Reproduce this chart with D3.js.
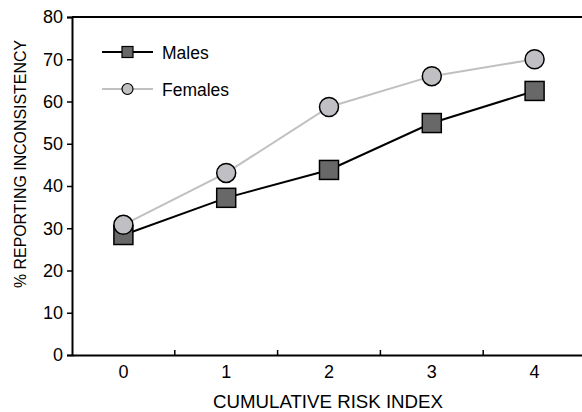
<!DOCTYPE html>
<html>
<head>
<meta charset="utf-8">
<script src="https://cdn.jsdelivr.net/npm/d3@7"></script>
<style>
  body { margin: 0; background: #fff; }
  svg { font-family: "Liberation Sans", Arial, sans-serif; }
</style>
</head>
<body>
<svg id="chart" width="582" height="412"></svg>
<script>
const categories = ['0', '1', '2', '3', '4'];
const males = [28.4, 37.2, 43.8, 54.9, 62.5];
const females = [30.8, 43.1, 58.7, 66.0, 70.0];
const yTicks = [0, 10, 20, 30, 40, 50, 60, 70, 80];

const svg = d3.select('#chart');
const margin = { top: 17, right: -4, bottom: 57, left: 72 };
const width = 582 - margin.left - margin.right;
const height = 412 - margin.top - margin.bottom;

const chart = svg.append('g')
  .attr('transform', `translate(${margin.left},${margin.top})`);

const x = d3.scaleBand().domain(categories).range([0, width]);
const y = d3.scaleLinear().domain([0, 80]).range([height, 0]);
const cx = d => x(d) + x.bandwidth() / 2;

// top frame line
chart.append('line')
  .attr('x1', 0).attr('x2', width)
  .attr('y1', 0).attr('y2', 0)
  .attr('stroke', '#000').attr('stroke-width', 2);

// y axis
const yAxis = chart.append('g')
  .call(d3.axisLeft(y).tickValues(yTicks).tickSize(5).tickPadding(4));
yAxis.select('.domain').attr('stroke-width', 2);
yAxis.selectAll('.tick line').attr('stroke-width', 1.5);
yAxis.selectAll('text').attr('font-size', 18).attr('fill', '#000');

// x axis, ticks on band boundaries pointing inward
const xAxis = chart.append('g')
  .attr('transform', `translate(0,${height})`)
  .call(d3.axisBottom(x).tickSize(0).tickPadding(10));
xAxis.select('.domain').attr('stroke-width', 2);
xAxis.selectAll('text').attr('font-size', 18).attr('fill', '#000');
xAxis.selectAll('.boundary')
  .data(categories.slice(1))
  .enter().append('line')
    .attr('x1', d => x(d)).attr('x2', d => x(d))
    .attr('y1', 0).attr('y2', -5)
    .attr('stroke', '#000').attr('stroke-width', 1.5);

const line = d3.line()
  .x((d, i) => cx(categories[i]))
  .y(d => y(d));

chart.append('path').datum(females)
  .attr('d', line).attr('fill', 'none')
  .attr('stroke', '#c0c0c0').attr('stroke-width', 2);
chart.append('path').datum(males)
  .attr('d', line).attr('fill', 'none')
  .attr('stroke', '#000').attr('stroke-width', 2);

const sq = 19;
chart.selectAll('.male')
  .data(males)
  .enter().append('rect')
    .attr('class', 'male')
    .attr('x', (d, i) => cx(categories[i]) - sq / 2)
    .attr('y', d => y(d) - sq / 2)
    .attr('width', sq).attr('height', sq)
    .attr('fill', '#686868').attr('stroke', '#000').attr('stroke-width', 1.5);

chart.selectAll('.female')
  .data(females)
  .enter().append('circle')
    .attr('class', 'female')
    .attr('cx', (d, i) => cx(categories[i]))
    .attr('cy', d => y(d))
    .attr('r', 9.5)
    .attr('fill', '#c0c0c4').attr('stroke', '#000').attr('stroke-width', 1.5);

// legend
const legend = svg.append('g');
legend.append('line')
  .attr('x1', 102).attr('x2', 153).attr('y1', 52).attr('y2', 52)
  .attr('stroke', '#000').attr('stroke-width', 2);
legend.append('rect')
  .attr('x', 122).attr('y', 46.5).attr('width', 11).attr('height', 11)
  .attr('fill', '#686868').attr('stroke', '#000').attr('stroke-width', 1.2);
legend.append('text')
  .attr('x', 162).attr('y', 59).attr('font-size', 17.5).text('Males');
legend.append('line')
  .attr('x1', 102).attr('x2', 153).attr('y1', 89).attr('y2', 89)
  .attr('stroke', '#c0c0c0').attr('stroke-width', 2);
legend.append('circle')
  .attr('cx', 127.5).attr('cy', 89).attr('r', 5.5)
  .attr('fill', '#c0c0c4').attr('stroke', '#000').attr('stroke-width', 1.2);
legend.append('text')
  .attr('x', 162).attr('y', 96).attr('font-size', 17.5).text('Females');

// axis titles
svg.append('text')
  .attr('transform', 'translate(26,164) rotate(-90)')
  .attr('text-anchor', 'middle').attr('font-size', 17)
  .attr('textLength', 248).attr('lengthAdjust', 'spacingAndGlyphs')
  .text('% REPORTING INCONSISTENCY');
svg.append('text')
  .attr('x', 328).attr('y', 408)
  .attr('text-anchor', 'middle').attr('font-size', 18.5)
  .attr('textLength', 230).attr('lengthAdjust', 'spacingAndGlyphs')
  .text('CUMULATIVE RISK INDEX');
</script>
</body>
</html>
